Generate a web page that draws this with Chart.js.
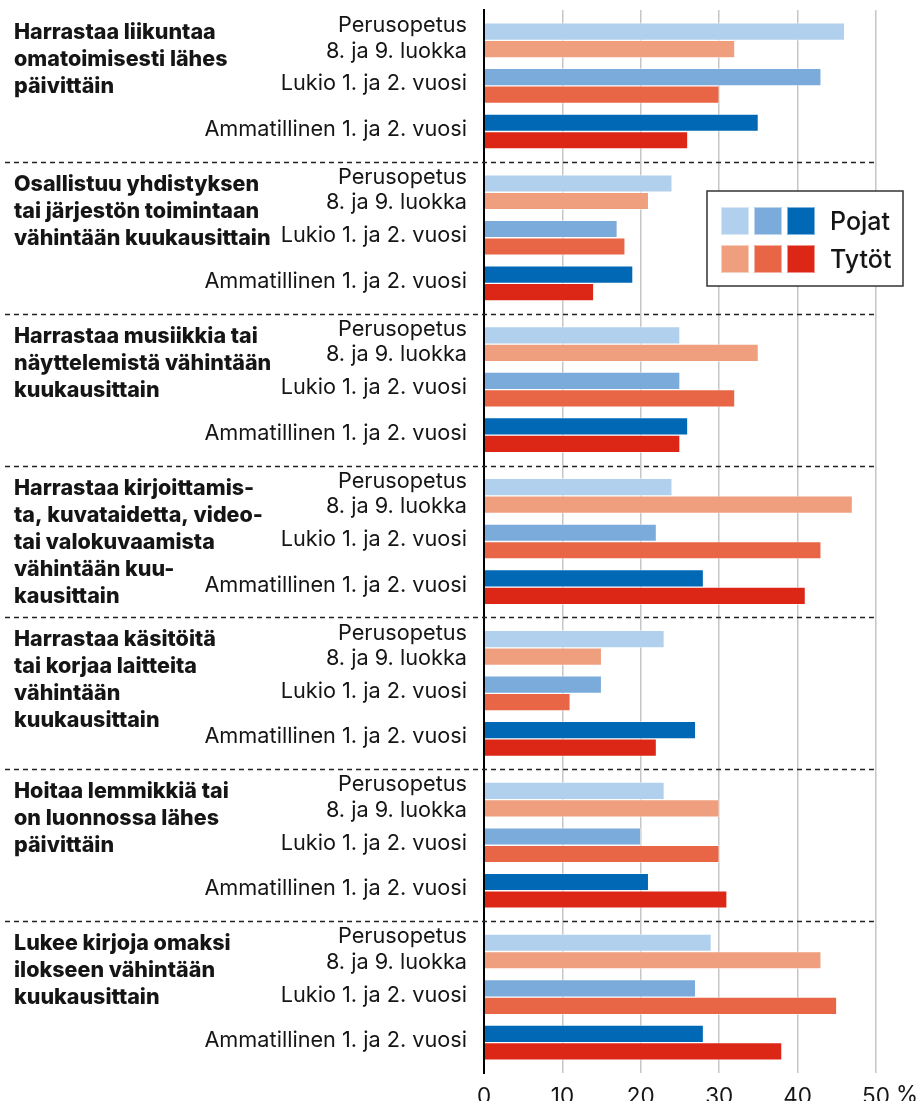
<!DOCTYPE html>
<html lang="fi">
<head>
<meta charset="utf-8">
<script src="https://cdn.jsdelivr.net/npm/chart.js@4.4.1/dist/chart.umd.min.js"></script>
<style>
  html, body { margin: 0; padding: 0; background: #fff; }
  #wrap { width: 920px; height: 1101px; position: relative; }
</style>
</head>
<body>
<div id="wrap"><canvas id="harrastukset"></canvas></div>
<script>
// ryhmien otsikot (rivitys kuten alkuperäisessä)
const groupTitles = [
  ['Harrastaa liikuntaa', 'omatoimisesti lähes', 'päivittäin'],
  ['Osallistuu yhdistyksen', 'tai järjestön toimintaan', 'vähintään kuukausittain'],
  ['Harrastaa musiikkia tai', 'näyttelemistä vähintään', 'kuukausittain'],
  ['Harrastaa kirjoittamis-', 'ta, kuvataidetta, video-', 'tai valokuvaamista', 'vähintään kuu-', 'kausittain'],
  ['Harrastaa käsitöitä', 'tai korjaa laitteita', 'vähintään', 'kuukausittain'],
  ['Hoitaa lemmikkiä tai', 'on luonnossa lähes', 'päivittäin'],
  ['Lukee kirjoja omaksi', 'ilokseen vähintään', 'kuukausittain'],
];

const schools = [
  ['Perusopetus', '8. ja 9. luokka'],
  'Lukio 1. ja 2. vuosi',
  'Ammatillinen 1. ja 2. vuosi',
];

// % per ryhmä: perusopetus, lukio, ammatillinen
const pojat = [
  46, 43, 35,
  24, 17, 19,
  25, 25, 26,
  24, 22, 28,
  23, 15, 27,
  23, 20, 21,
  29, 27, 28,
];
const tytot = [
  32, 30, 26,
  21, 18, 14,
  35, 32, 25,
  47, 43, 41,
  15, 11, 22,
  30, 30, 31,
  43, 45, 38,
];

const xTicks = [0, 10, 20, 30, 40, 50];

const poikaColors = ['#b0d0ee', '#7aabdb', '#0068b4'];
const tyttoColors = ['#ef9e7e', '#e86645', '#dc2616'];

// 10 paikkaa per ryhmä, rivit paikoissa 2, 5 ja 8
const SLOTS = 10;
const nSlots = groupTitles.length * SLOTS + 1;
const labels = new Array(nSlots).fill('');
const boysData = new Array(nSlots).fill(null);
const girlsData = new Array(nSlots).fill(null);
const boysBg = new Array(nSlots).fill('transparent');
const girlsBg = new Array(nSlots).fill('transparent');

groupTitles.forEach((t, g) => {
  schools.forEach((s, r) => {
    const slot = g * SLOTS + 2 + r * 3;
    const i = g * 3 + r;
    labels[slot] = s;
    boysData[slot] = pojat[i];
    girlsData[slot] = tytot[i];
    boysBg[slot] = poikaColors[r];
    girlsBg[slot] = tyttoColors[r];
  });
});

const FONT = 'Inter, "Noto Sans", sans-serif';
const TEXT = '#151515';

const extras = {
  id: 'extras',
  afterDraw(chart) {
    const { ctx, chartArea } = chart;
    const y = chart.scales.y;
    const x = chart.scales.x;
    ctx.save();

    // katkoviivat ryhmien välissä
    ctx.strokeStyle = '#222';
    ctx.lineWidth = 1.5;
    ctx.setLineDash([5, 4]);
    for (let g = 1; g < groupTitles.length; g++) {
      const py = Math.round(y.getPixelForValue(g * SLOTS)) + 0.5;
      ctx.beginPath();
      ctx.moveTo(5, py);
      ctx.lineTo(chartArea.right, py);
      ctx.stroke();
    }
    ctx.setLineDash([]);

    // ryhmien otsikot
    ctx.fillStyle = TEXT;
    ctx.font = '800 21.5px ' + FONT;
    ctx.textAlign = 'left';
    ctx.textBaseline = 'alphabetic';
    groupTitles.forEach((lines, g) => {
      const top = y.getPixelForValue(g * SLOTS);
      lines.forEach((line, k) => {
        ctx.fillText(line, 14, top + 29 + k * 27);
      });
    });

    // prosenttimerkki viimeisen tikin perään
    ctx.font = '22.5px ' + FONT;
    ctx.textBaseline = 'top';
    const last = xTicks[xTicks.length - 1];
    const w = ctx.measureText(String(last)).width;
    ctx.fillText('%', x.getPixelForValue(last) + w / 2 + 6, chartArea.bottom + 11);

    // selite
    const lx = 707, ly = 191, lw = 196, lh = 95;
    ctx.fillStyle = '#fff';
    ctx.fillRect(lx, ly, lw, lh);
    ctx.strokeStyle = '#333';
    ctx.lineWidth = 1.5;
    ctx.strokeRect(lx, ly, lw, lh);
    const rowsLegend = [
      { name: 'Pojat', colors: poikaColors },
      { name: 'Tytöt', colors: tyttoColors },
    ];
    rowsLegend.forEach((row, k) => {
      const sy = ly + 16 + k * 38;
      row.colors.forEach((c, j) => {
        const sx = lx + 14 + j * 33;
        ctx.fillStyle = c;
        ctx.fillRect(sx, sy, 28, 28);
        ctx.strokeStyle = 'rgba(255,255,255,0.5)';
        ctx.lineWidth = 1;
        ctx.strokeRect(sx + 0.5, sy + 0.5, 27, 27);
      });
      ctx.fillStyle = TEXT;
      ctx.font = '500 25px ' + FONT;
      ctx.textBaseline = 'middle';
      ctx.fillText(row.name, lx + 123, sy + 15);
    });

    ctx.restore();
  },
};

new Chart(document.getElementById('harrastukset'), {
  type: 'bar',
  data: {
    labels: labels,
    datasets: [
      {
        label: 'Pojat',
        data: boysData,
        backgroundColor: boysBg,
        borderColor: 'rgba(255,255,255,0.45)',
        borderWidth: 1,
        borderSkipped: 'start',
        barThickness: 17.5,
      },
      {
        label: 'Tytöt',
        data: girlsData,
        backgroundColor: girlsBg,
        borderColor: 'rgba(255,255,255,0.45)',
        borderWidth: 1,
        borderSkipped: 'start',
        barThickness: 17.5,
      },
    ],
  },
  options: {
    indexAxis: 'y',
    responsive: true,
    maintainAspectRatio: false,
    animation: false,
    layout: {
      padding: { top: 10, right: 44, left: 0, bottom: 0 },
    },
    plugins: {
      legend: { display: false },
      tooltip: { enabled: false },
    },
    scales: {
      x: {
        min: xTicks[0],
        max: xTicks[xTicks.length - 1],
        afterBuildTicks(scale) {
          scale.ticks = xTicks.map((v) => ({ value: v }));
        },
        afterFit(scale) {
          scale.height = 28;
          scale.paddingLeft = 0;
          scale.paddingRight = 0;
        },
        grid: {
          drawTicks: false,
          lineWidth: 1.5,
          color: (c) => (c.tick && c.tick.value === 0 ? 'transparent' : '#c6c6c6'),
        },
        border: { display: false },
        ticks: {
          padding: 11,
          color: TEXT,
          font: { family: FONT, size: 22.5 },
        },
      },
      y: {
        type: 'category',
        offset: false,
        afterFit(scale) {
          scale.width = 484;
          scale.paddingTop = 0;
          scale.paddingBottom = 0;
        },
        grid: { display: false, drawTicks: false },
        border: { display: true, color: '#000', width: 2, z: 1 },
        ticks: {
          autoSkip: false,
          padding: 17,
          labelOffset: -2,
          color: TEXT,
          font: { family: FONT, size: 21.7, lineHeight: 1.17 },
        },
      },
    },
  },
  plugins: [extras],
});
</script>
</body>
</html>
